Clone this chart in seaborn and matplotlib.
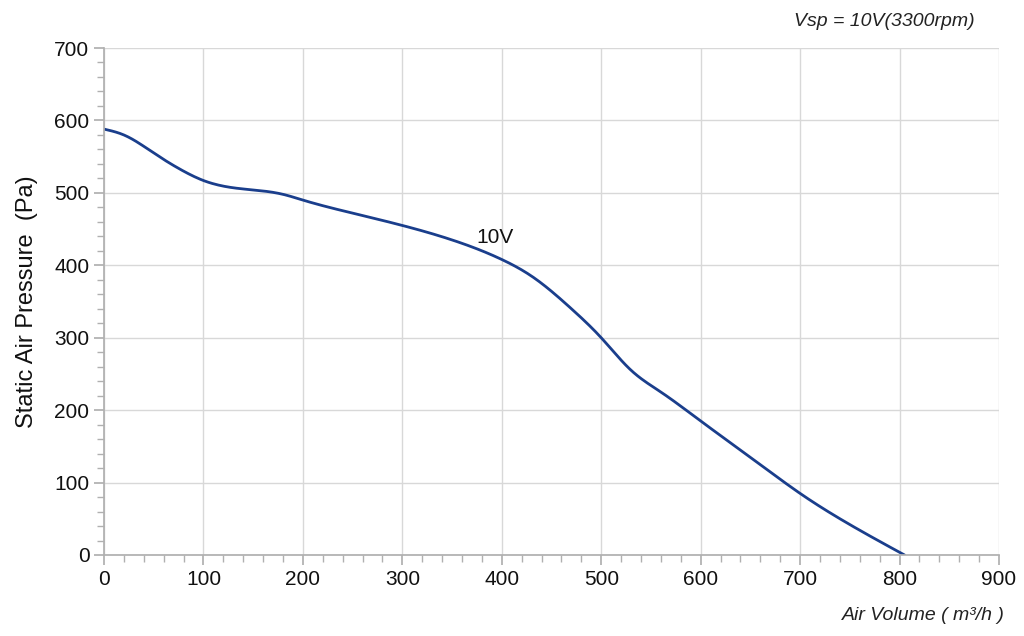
import matplotlib
matplotlib.use("Agg")
import matplotlib.pyplot as plt
import seaborn as sns
import pandas as pd
from matplotlib.ticker import MultipleLocator
from scipy.interpolate import make_smoothing_spline
import numpy as np

air_volume = [0, 20, 50, 80, 100, 130, 180, 200, 250, 300, 350, 400, 430, 470, 500, 530, 560, 600, 650, 700, 750, 805]
pressure = [588, 580, 555, 530, 517, 507, 498, 490, 472, 455, 435, 408, 385, 340, 300, 255, 225, 185, 135, 85, 42, 0]

sns.set_theme(style="white")
plt.rcParams['font.family'] = ['Liberation Sans', 'DejaVu Sans']

xs = np.linspace(0, 805, 400)
ys = make_smoothing_spline(air_volume, pressure, lam=30)(xs)
df = pd.DataFrame({"x": xs, "y": ys})

fig = plt.figure(figsize=(10.24, 6.36), dpi=100)
ax = fig.add_axes([104/1024, 1-555/636, 895/1024, 507/636])
sns.lineplot(data=df, x="x", y="y", ax=ax, color="#1a3e8c", lw=2)
ax.set_xlim(0, 900); ax.set_ylim(0, 700)
ax.xaxis.set_major_locator(MultipleLocator(100)); ax.yaxis.set_major_locator(MultipleLocator(100))
ax.xaxis.set_minor_locator(MultipleLocator(20)); ax.yaxis.set_minor_locator(MultipleLocator(20))
ax.grid(True, which="major", color="#d8d8d8", lw=1)
for s in ["top", "right"]:
    ax.spines[s].set_visible(False)
for s in ["left", "bottom"]:
    ax.spines[s].set_color("#b0b0b0")
ax.tick_params(which="both", direction="out", color="#b0b0b0", labelsize=15, labelcolor="#111111", left=True, bottom=True)
ax.tick_params(which="major", length=7)
ax.tick_params(which="minor", length=5)
ax.set_xlabel("")
ax.set_ylabel("Static Air Pressure  (Pa)", fontsize=17, color="#111111", labelpad=12)
fig.text(1005/1024, 1-615/636, "Air Volume ( m³/h )", ha="right", va="center", fontsize=14, style="italic", color="#222222")
fig.text(975/1024, 1-22/636, "Vsp = 10V(3300rpm)", ha="right", va="center", fontsize=14, style="italic", color="#222222")
ax.text(393, 438, "10V", ha="center", va="center", fontsize=15, color="#111111")
fig.savefig("out.png", dpi=100)
